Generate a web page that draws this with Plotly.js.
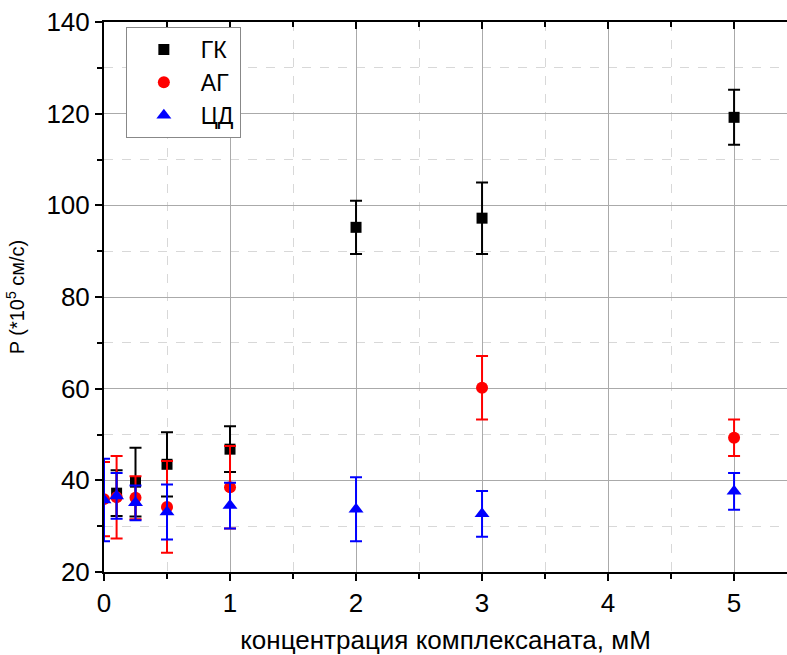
<!DOCTYPE html>
<html>
<head>
<meta charset="utf-8">
<script src="https://cdn.plot.ly/plotly-3.0.1.min.js"></script>
<style>html,body{margin:0;padding:0;background:#fff;}#chart{width:787px;height:655px;}</style>
</head>
<body>
<div id="chart"></div>
<script>
const gkX = [0.1, 0.25, 0.5, 1, 2, 3, 5];
const gkY = [37.2, 39.6, 43.5, 46.8, 95.2, 97.2, 119.2];
const gkErr = [5, 7.5, 7, 5, 5.8, 7.8, 6];

const agX = [0, 0.1, 0.25, 0.5, 1, 3, 5];
const agY = [35.9, 36.3, 36.2, 34.2, 38.5, 60.2, 49.3];
const agErr = [8.1, 9, 4.7, 10, 9, 6.9, 4];

const cdX = [0, 0.1, 0.25, 0.5, 1, 2, 3, 5];
const cdY = [35.7, 36.6, 35.1, 33.1, 34.5, 33.7, 32.7, 37.6];
const cdErr = [9, 5, 3.8, 6, 5, 7, 5, 4];

const names = ['ГК', 'АГ', 'ЦД'];
const FONT = 'Liberation Sans, Arial, sans-serif';

function tr(x, y, e, name, color, symbol, size) {
  return {
    x: x, y: y, name: name, type: 'scatter', mode: 'markers',
    marker: {color: color, symbol: symbol, size: size, line: {width: 0}},
    error_y: {type: 'data', array: e, visible: true, color: color, thickness: 2, width: 6}
  };
}

const data = [
  tr(gkX, gkY, gkErr, names[0], '#000000', 'square', 11),
  tr(agX, agY, agErr, names[1], '#ff0000', 'circle', 12),
  tr(cdX, cdY, cdErr, names[2], '#0000ff', 'triangle-up', 13),
  {x: [0], y: [0], xaxis: 'x2', yaxis: 'y', showlegend: false, hoverinfo: 'skip', mode: 'markers', marker: {opacity: 0}}
];

const layout = {
  width: 787, height: 655,
  margin: {l: 104, r: 0, t: 22, b: 83},
  paper_bgcolor: '#fff', plot_bgcolor: '#fff',
  font: {family: FONT, size: 24, color: '#000'},
  showlegend: true,
  legend: {
    x: 0.032, y: 0.991, xanchor: 'left', yanchor: 'top',
    bgcolor: '#fff', bordercolor: '#888', borderwidth: 1,
    font: {family: FONT, size: 23, color: '#000'},
    itemwidth: 64, tracegroupgap: 0
  },
  xaxis: {
    range: [0, 5.42], dtick: 1, tick0: 0,
    showline: true, linecolor: '#000', linewidth: 2,
    ticks: 'outside', ticklen: 7, tickwidth: 2, tickcolor: '#000',
    showgrid: true, gridcolor: '#aaaaaa', gridwidth: 1,
    zeroline: false,
    tickfont: {family: FONT, size: 26, color: '#000'},
    minor: {dtick: 0.5, showgrid: true, gridcolor: '#d8d8d8', griddash: 'dash', gridwidth: 1, ticks: 'outside', ticklen: 5, tickwidth: 2, tickcolor: '#000'},
    title: {text: 'концентрация комплексаната, мМ', font: {family: FONT, size: 26, color: '#000'}, standoff: 14}
  },
  xaxis2: {
    overlaying: 'x', side: 'top', range: [0, 5.42], dtick: 1, tick0: 0,
    showline: true, linecolor: '#000', linewidth: 2,
    ticks: 'inside', ticklen: 7, tickwidth: 2, tickcolor: '#000',
    showticklabels: false, showgrid: false, zeroline: false,
    minor: {dtick: 0.5, ticks: 'inside', ticklen: 5, tickwidth: 2, tickcolor: '#000', showgrid: false}
  },
  yaxis: {
    range: [20, 140], dtick: 20, tick0: 0,
    showline: true, linecolor: '#000', linewidth: 2,
    ticks: 'outside', ticklen: 7, tickwidth: 2, tickcolor: '#000',
    showgrid: true, gridcolor: '#aaaaaa', gridwidth: 1,
    zeroline: false,
    tickfont: {family: FONT, size: 26, color: '#000'},
    minor: {dtick: 10, showgrid: true, gridcolor: '#d8d8d8', griddash: 'dash', gridwidth: 1, ticks: 'outside', ticklen: 5, tickwidth: 2, tickcolor: '#000'},
    title: {text: 'P (*10<sup>5</sup> см/с)', font: {family: FONT, size: 20, color: '#000'}, standoff: 16}
  }
};

Plotly.newPlot('chart', data, layout, {displayModeBar: false, staticPlot: true});
</script>
</body>
</html>
